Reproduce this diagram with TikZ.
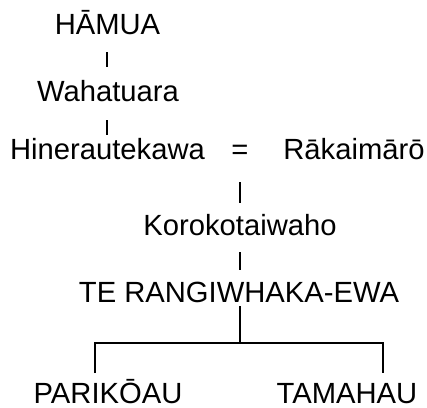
\documentclass[tikz,border=0pt]{standalone}
\usepackage{fontspec}
\setmainfont{Liberation Sans}
\begin{document}
\begin{tikzpicture}[x=1pt,y=-1pt,
  person/.style={inner sep=0pt,anchor=base,font=\fontsize{29.2}{34}\selectfont},
  bar/.style={line width=2.8pt},
  conn/.style={line width=2pt}]
\useasboundingbox (0,0) rectangle (427,407);
\node[person] (hamua) at (107.5,34) {HĀMUA};
\node[person] (waha) at (108,101) {Wahatuara};
\node[person] (hine) at (107.5,159) {Hinerautekawa};
\node[person] (eq) at (240,159) {=};
\node[person] (raka) at (354,159) {Rākaimārō};
\node[person] (koro) at (240,235) {Korokotaiwaho};
\node[person] (te) at (239,302) {TE RANGIWHAKA-EWA};
\node[person] (pari) at (108,403) {PARIKŌAU};
\node[person] (tama) at (347,403) {TAMAHAU};
% short bars
\coordinate (b1t) at (107,52); \coordinate (b1b) at (107,67);
\coordinate (b2t) at (107,120); \coordinate (b2b) at (107,135);
\coordinate (b3t) at (240,182); \coordinate (b3b) at (240,203);
\coordinate (b4t) at (240,252); \coordinate (b4b) at (240,270);
\draw[bar] (b1t) -- (b1b);
\draw[bar] (b2t) -- (b2b);
\draw[bar] (b3t) -- (b3b);
\draw[bar] (b4t) -- (b4b);
% descent
\coordinate (j) at (240,343);
\coordinate (jl) at (95,343);
\coordinate (jr) at (383,343);
\coordinate (el) at (95,373);
\coordinate (er) at (383,373);
\coordinate (ts) at ([yshift=-4pt]te.base);
\draw[conn] (ts -| j) -- (j);
\draw[conn] (el) -- (jl) -- (jr) -- (er);
\end{tikzpicture}
\end{document}
